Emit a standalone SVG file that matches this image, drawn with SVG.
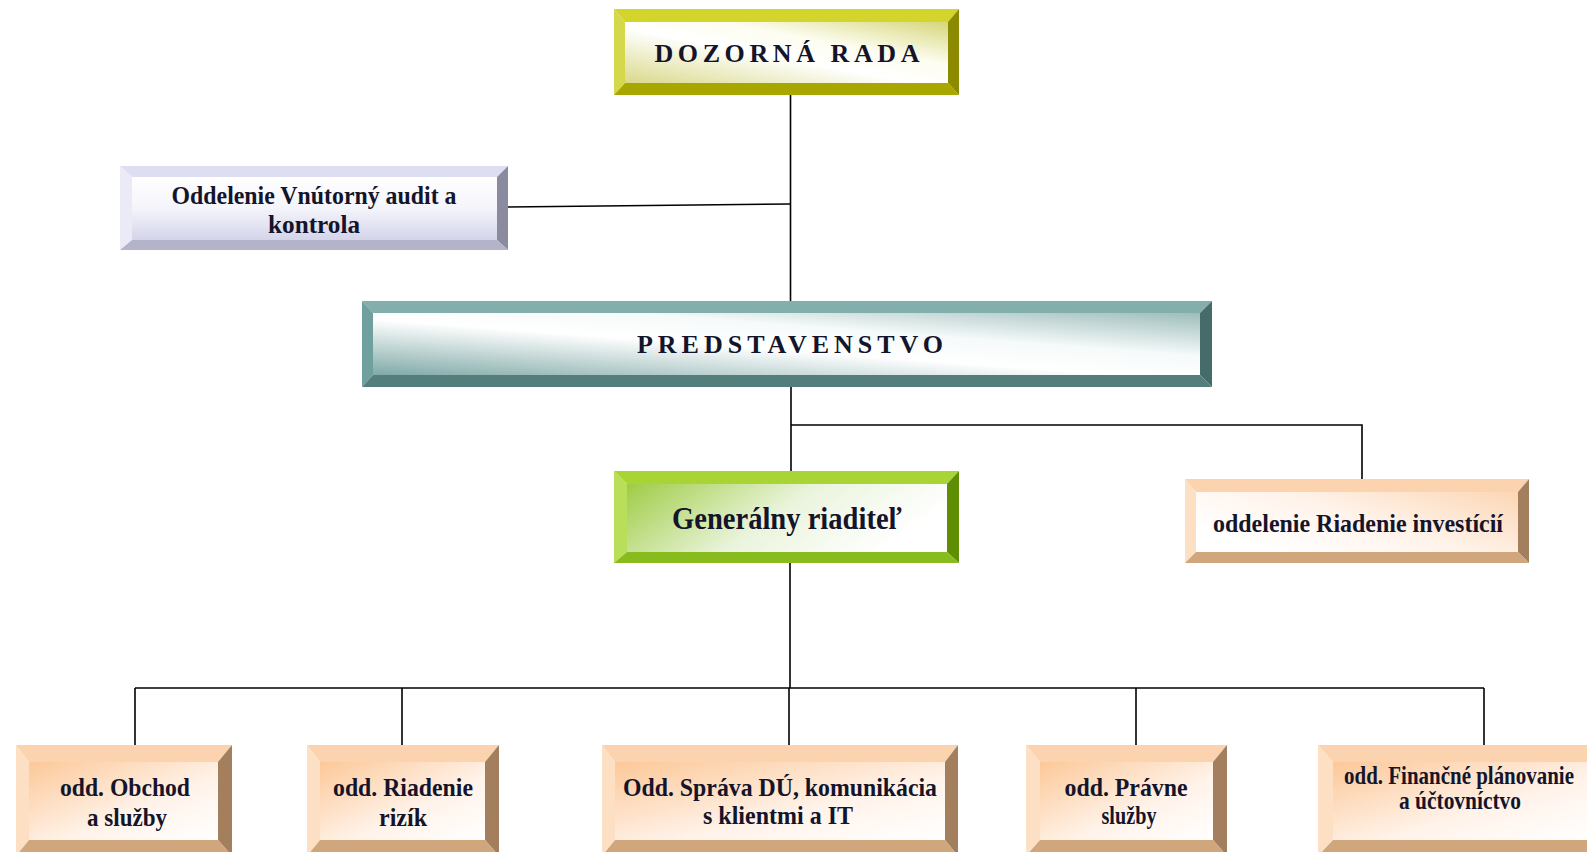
<svg xmlns="http://www.w3.org/2000/svg" width="1587" height="852" viewBox="0 0 1587 852">
<style>
.t{font-family:"Liberation Serif","Times New Roman",serif;font-weight:bold;fill:#14142a;text-anchor:middle}
.title{font-size:26px}
.big{font-size:32px}
.mid{font-size:26px}
.sm{font-size:25px}
.con{stroke:#000;stroke-width:1.6;fill:none}
.y1{fill:#d3d52c}.y2{fill:#d6d84c}.y3{fill:#8b8a00}.y4{fill:#a8a700}
.c1{fill:#82aeac}.c2{fill:#6ea09e}.c3{fill:#466c6a}.c4{fill:#537e7c}
.g1{fill:#a8d436}.g2{fill:#b8de5a}.g3{fill:#5f8e04}.g4{fill:#88bc1e}
.l1{fill:#dedef2}.l2{fill:#ebebf7}.l3{fill:#8b8b9f}.l4{fill:#b3b3c9}
.o1{fill:#fbd3ae}.o2{fill:#fde0c4}.o3{fill:#a37f5d}.o4{fill:#d0a67c}
</style>
<defs>
<linearGradient id="gy" x1="0" y1="1" x2="1" y2="0"><stop offset="0" stop-color="#d9d98a"/><stop offset="0.45" stop-color="#ffffff"/><stop offset="0.65" stop-color="#fdfdf0"/><stop offset="1" stop-color="#d6d67a"/></linearGradient>
<linearGradient id="gc" x1="0" y1="1" x2="1" y2="0"><stop offset="0" stop-color="#7fa9a7"/><stop offset="0.45" stop-color="#ffffff"/><stop offset="0.65" stop-color="#f6fafa"/><stop offset="1" stop-color="#9dbdbb"/></linearGradient>
<linearGradient id="gg" x1="0" y1="0" x2="1" y2="0.3"><stop offset="0" stop-color="#9fcc45"/><stop offset="0.55" stop-color="#eaf4dc"/><stop offset="1" stop-color="#ffffff"/></linearGradient>
<linearGradient id="gl" x1="0" y1="0" x2="0" y2="1"><stop offset="0" stop-color="#ffffff"/><stop offset="0.5" stop-color="#f4f4fb"/><stop offset="1" stop-color="#d4d4ea"/></linearGradient>
<linearGradient id="go" x1="0" y1="0" x2="1" y2="1"><stop offset="0" stop-color="#fcc898"/><stop offset="0.6" stop-color="#fff3ea"/><stop offset="1" stop-color="#ffffff"/></linearGradient>
<linearGradient id="gi" x1="0" y1="0.6" x2="1" y2="0"><stop offset="0" stop-color="#ffffff"/><stop offset="0.45" stop-color="#fff3ea"/><stop offset="1" stop-color="#fcd6b4"/></linearGradient>
</defs>
<rect width="1587" height="852" fill="#fff"/>
<g id="connectors">
<line class="con" x1="790.5" y1="95" x2="790.5" y2="301"/>
<line class="con" x1="508" y1="207" x2="790.5" y2="204"/>
<line class="con" x1="791" y1="387" x2="791" y2="471"/>
<polyline class="con" points="791,425 1362,425 1362,479"/>
<line class="con" x1="790" y1="563" x2="790" y2="688"/>
<line class="con" x1="135" y1="688" x2="1484" y2="688"/>
<line class="con" x1="135" y1="688" x2="135" y2="745"/>
<line class="con" x1="402" y1="688" x2="402" y2="745"/>
<line class="con" x1="789" y1="688" x2="789" y2="745"/>
<line class="con" x1="1136" y1="688" x2="1136" y2="745"/>
<line class="con" x1="1484" y1="688" x2="1484" y2="745"/>
</g>
<g id="dozorna-rada">
<polygon class="y1" points="614,9 959,9 948,22 625,22"/>
<polygon class="y2" points="614,9 625,22 625,83 614,95"/>
<polygon class="y3" points="959,9 959,95 948,83 948,22"/>
<polygon class="y4" points="614,95 625,83 948,83 959,95"/>
<rect x="625" y="22" width="323" height="61" fill="url(#gy)"/>
<text class="t title" x="787" y="62" textLength="265" lengthAdjust="spacing">DOZORNÁ RADA</text>
</g>
<g id="audit">
<polygon class="l1" points="120,166 508,166 497,177 132,177"/>
<polygon class="l2" points="120,166 132,177 132,240 120,250"/>
<polygon class="l3" points="508,166 508,250 497,240 497,177"/>
<polygon class="l4" points="120,250 132,240 497,240 508,250"/>
<rect x="132" y="177" width="365" height="63" fill="url(#gl)"/>
<text class="t sm" x="314" y="204" textLength="285" lengthAdjust="spacingAndGlyphs">Oddelenie Vnútorný audit a</text>
<text class="t sm" x="314" y="233" textLength="92" lengthAdjust="spacingAndGlyphs">kontrola</text>
</g>
<g id="predstavenstvo">
<polygon class="c1" points="362,301 1212,301 1200,313 373,313"/>
<polygon class="c2" points="362,301 373,313 373,375 362,387"/>
<polygon class="c3" points="1212,301 1212,387 1200,375 1200,313"/>
<polygon class="c4" points="362,387 373,375 1200,375 1212,387"/>
<rect x="373" y="313" width="827" height="62" fill="url(#gc)"/>
<text class="t title" x="790" y="353" textLength="306" lengthAdjust="spacing">PREDSTAVENSTVO</text>
</g>
<g id="generalny-riaditel">
<polygon class="g1" points="614,471 959,471 947,484 627,484"/>
<polygon class="g2" points="614,471 627,484 627,552 614,563"/>
<polygon class="g3" points="959,471 959,563 947,552 947,484"/>
<polygon class="g4" points="614,563 627,552 947,552 959,563"/>
<rect x="627" y="484" width="320" height="68" fill="url(#gg)"/>
<text class="t big" x="787" y="529" textLength="230" lengthAdjust="spacingAndGlyphs">Generálny riaditeľ</text>
</g>
<g id="riadenie-investicii">
<polygon class="o1" points="1185,479 1529,479 1518,492 1196,492"/>
<polygon class="o2" points="1185,479 1196,492 1196,552 1185,563"/>
<polygon class="o3" points="1529,479 1529,563 1518,552 1518,492"/>
<polygon class="o4" points="1185,563 1196,552 1518,552 1529,563"/>
<rect x="1196" y="492" width="322" height="60" fill="url(#gi)"/>
<text class="t sm" x="1358" y="532" textLength="290" lengthAdjust="spacingAndGlyphs">oddelenie Riadenie investícií</text>
</g>
<g id="obchod">
<polygon class="o1" points="16,745 232,745 218,762 29,762"/>
<polygon class="o2" points="16,745 29,762 29,840 16,856"/>
<polygon class="o3" points="232,745 232,856 218,840 218,762"/>
<polygon class="o4" points="16,856 29,840 218,840 232,856"/>
<rect x="29" y="762" width="189" height="78" fill="url(#go)"/>
<text class="t mid" x="125" y="796" textLength="130" lengthAdjust="spacingAndGlyphs">odd. Obchod</text>
<text class="t mid" x="127" y="826" textLength="80" lengthAdjust="spacingAndGlyphs">a služby</text>
</g>
<g id="rizika">
<polygon class="o1" points="307,745 499,745 485,762 320,762"/>
<polygon class="o2" points="307,745 320,762 320,840 307,856"/>
<polygon class="o3" points="499,745 499,856 485,840 485,762"/>
<polygon class="o4" points="307,856 320,840 485,840 499,856"/>
<rect x="320" y="762" width="165" height="78" fill="url(#go)"/>
<text class="t mid" x="403" y="796" textLength="140" lengthAdjust="spacingAndGlyphs">odd. Riadenie</text>
<text class="t mid" x="403" y="826" textLength="48" lengthAdjust="spacingAndGlyphs">rizík</text>
</g>
<g id="sprava-du">
<polygon class="o1" points="602,745 958,745 945,762 615,762"/>
<polygon class="o2" points="602,745 615,762 615,840 602,856"/>
<polygon class="o3" points="958,745 958,856 945,840 945,762"/>
<polygon class="o4" points="602,856 615,840 945,840 958,856"/>
<rect x="615" y="762" width="330" height="78" fill="url(#go)"/>
<text class="t mid" x="780" y="796" textLength="314" lengthAdjust="spacingAndGlyphs">Odd. Správa DÚ, komunikácia</text>
<text class="t mid" x="778" y="824" textLength="150" lengthAdjust="spacingAndGlyphs">s klientmi a IT</text>
</g>
<g id="pravne-sluzby">
<polygon class="o1" points="1026,745 1227,745 1213,762 1040,762"/>
<polygon class="o2" points="1026,745 1040,762 1040,840 1026,856"/>
<polygon class="o3" points="1227,745 1227,856 1213,840 1213,762"/>
<polygon class="o4" points="1026,856 1040,840 1213,840 1227,856"/>
<rect x="1040" y="762" width="173" height="78" fill="url(#go)"/>
<text class="t mid" x="1126" y="796" textLength="123" lengthAdjust="spacingAndGlyphs">odd. Právne</text>
<text class="t mid" x="1129" y="824" textLength="55" lengthAdjust="spacingAndGlyphs">služby</text>
</g>
<g id="financne-planovanie">
<polygon class="o1" points="1318,745 1604,745 1590,762 1333,762"/>
<polygon class="o2" points="1318,745 1333,762 1333,840 1318,856"/>
<polygon class="o3" points="1604,745 1604,856 1590,840 1590,762"/>
<polygon class="o4" points="1318,856 1333,840 1590,840 1604,856"/>
<rect x="1333" y="762" width="257" height="78" fill="url(#go)"/>
<text class="t sm" x="1459" y="784" textLength="230" lengthAdjust="spacingAndGlyphs">odd. Finančné plánovanie</text>
<text class="t sm" x="1460" y="809" textLength="122" lengthAdjust="spacingAndGlyphs">a účtovníctvo</text>
</g>
</svg>
